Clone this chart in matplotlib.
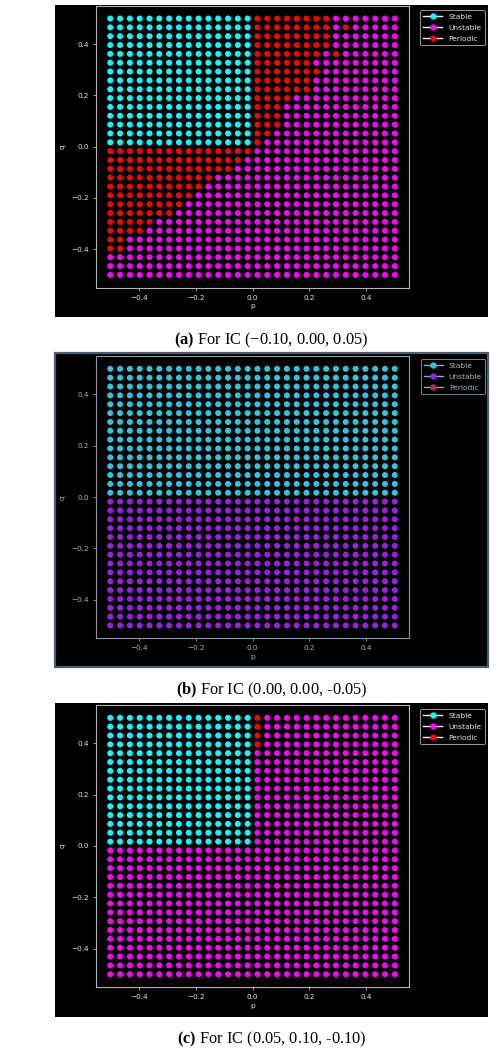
import matplotlib
matplotlib.use('Agg')
import numpy as np
import matplotlib.pyplot as plt
from matplotlib.patches import Rectangle
from matplotlib.lines import Line2D

### -------------------------------------------------------------------------------------------------------------------
### Data: 30 x 30 grid of (p, q), one string per row, top row (q = 0.5) first
### S = stable, U = unstable, P = periodic
### -------------------------------------------------------------------------------------------------------------------

pValues = np.linspace(-0.5, 0.5, 30)
qValues = np.linspace(-0.5, 0.5, 30)

gridA = [
    'SSSSSSSSSSSSSSSPPPPPPPPUUUUUUU',
    'SSSSSSSSSSSSSSSPPPPPPPPUPUUUUU',
    'SSSSSSSSSSSSSSSPPPPPPPPUUUUUUU',
    'SSSSSSSSSSSSSSSPPPPPPPPUUUUUUU',
    'SSSSSSSSSSSSSSSPPPPPPPUPUUUUUU',
    'SSSSSSSSSSSSSSSPPPPPPUUUUUUUUU',
    'SSSSSSSSSSSSSSSPPPPPPPUUUUUUUU',
    'SSSSSSSSSSSSSSSPPPPPPUUUUUUUUU',
    'SSSSSSSSSSSSSSSPPPPPPUUUUUUUUU',
    'SSSSSSSSSSSSSSSPPPPUUUUUUUUUUU',
    'SSSSSSSSSSSSSSSPPPUUUUUUUUUUUU',
    'SSSSSSSSSSSSSSSPPPUUUUUUUUUUUU',
    'SSSSSSSSSSSSSSSPPPUUUUUUUUUUUU',
    'SSSSSSSSSSSSSSSPPUUUUUUUUUUUUU',
    'SSSSSSSSSSSSSSSPUUUUUUUUUUUUUU',
    'PPPPPPPPPPPPPPPUUUUUUUUUUUUUUU',
    'PPPPPPPPPPPPPPUUUUUUUUUUUUUUUU',
    'PPPPPPPPPPPPPUUUUUUUUUUUUUUUUU',
    'PPPPPPPPPPPUUUUUUUUUUUUUUUUUUU',
    'PPPPPPPPPPUUUUUUUUUUUUUUUUUUUU',
    'PPPPPPPPPUUUUUUUUUUUUUUUUUUUUU',
    'PPPPPPPPUUUUUUUUUUUUUUUUUUUUUU',
    'PPPPPPPUUUUUUUUUUUUUUUUUUUUUUU',
    'PPPPPUUUUUUUUUUUUUUUUUUUUUUUUU',
    'PPPPUUUUUUUUUUUUUUUUUUUUUUUUUU',
    'PPUUUUUUUUUUUUUUUUUUUUUUUUUUUU',
    'PPUUUUUUUUUUUUUUUUUUUUUUUUUUUU',
    'UUUUUUUUUUUUUUUUUUUUUUUUUUUUUU',
    'UUUUUUUUUUUUUUUUUUUUUUUUUUUUUU',
    'UUUUUUUUUUUUUUUUUUUUUUUUUUUUUU',
]

gridB = ['SSSSSSSSSSSSSSSSSSSSSSSSSSSSSS'] * 15 + ['UUUUUUUUUUUUUUUUUUUUUUUUUUUUUU'] * 15

gridC = [
    'SSSSSSSSSSSSSSSPUUUUUUUUUUUUUU',
    'SSSSSSSSSSSSSSSPUUUUUUUUUUUUUU',
    'SSSSSSSSSSSSSSSPUUUUUUUUUUUUUU',
    'SSSSSSSSSSSSSSSPUUUUUUUUUUUUUU',
] + ['SSSSSSSSSSSSSSSUUUUUUUUUUUUUUU'] * 11 + ['UUUUUUUUUUUUUUUUUUUUUUUUUUUUUU'] * 15

captions = [r'$\mathbf{(a)}$ For IC (−0.10, 0.00, 0.05)',
            r'$\mathbf{(b)}$ For IC (0.00, 0.00, -0.05)',
            r'$\mathbf{(c)}$ For IC (0.05, 0.10, -0.10)']

legendLabels = ['Stable', 'Unstable', 'Periodic']
legendKeys = ['S', 'U', 'P']

### -------------------------------------------------------------------------------------------------------------------
### Setup
### -------------------------------------------------------------------------------------------------------------------

W, H = 500, 1057

plt.rcParams['mathtext.fontset'] = 'custom'
plt.rcParams['mathtext.rm'] = 'Liberation Serif'
plt.rcParams['mathtext.bf'] = 'Liberation Serif:bold'

brightStyle = {'colors': {'S': 'cyan', 'U': 'magenta', 'P': 'red'},
               'spine': '#b4b4b4', 'text': '#e6e6e6', 'legendLine': 'white', 'border': None}
dimStyle = {'colors': {'S': '#2cc6dc', 'U': '#9a1ee4', 'P': '#a8304c'},
            'spine': '#8c98a4', 'text': '#a9b3bd', 'legendLine': '#9aa6b2', 'border': '#4e5d6b'}

# pixel boxes: background (x0, y0, x1, y1), axes, legend anchor, caption y
panels = [
    {'grid': gridA, 'style': brightStyle, 'bg': (55, 5, 488, 317), 'ax': (96, 5.7, 409, 287.7),
     'leg': (420, 10), 'capY': 340},
    {'grid': gridB, 'style': dimStyle, 'bg': (55, 353, 488, 667), 'ax': (96, 356, 409, 638.3),
     'leg': (420.7, 359), 'capY': 690},
    {'grid': gridC, 'style': brightStyle, 'bg': (55, 703, 488, 1017), 'ax': (96, 705, 409, 987),
     'leg': (420, 709), 'capY': 1039.5},
]


def PixBox(x0, y0, x1, y1):
    return [x0 / W, 1 - y1 / H, (x1 - x0) / W, (y1 - y0) / H]


def DrawPanel(fig, panel, caption):
    style = panel['style']
    bx = PixBox(*panel['bg'])
    edge = style['border'] if style['border'] else 'none'
    fig.add_artist(Rectangle((bx[0], bx[1]), bx[2], bx[3], transform=fig.transFigure,
                             facecolor='black', edgecolor=edge, lw=1.6, zorder=-10))

    ax = fig.add_axes(PixBox(*panel['ax']))
    ax.set_facecolor('black')

    P, Q = np.meshgrid(pValues, qValues[::-1])
    labels = np.array([list(row) for row in panel['grid']])
    for key in legendKeys:
        mask = labels == key
        ax.scatter(P[mask], Q[mask], s=19, color=style['colors'][key], edgecolors='none')

    for spine in ax.spines.values():
        spine.set_color(style['spine'])
        spine.set_linewidth(0.8)
    ax.tick_params(colors=style['spine'], labelcolor=style['text'], labelsize=5.2, length=2.5, width=0.6, pad=2.5)
    ax.set_xticks([-0.4, -0.2, 0.0, 0.2, 0.4])
    ax.set_yticks([-0.4, -0.2, 0.0, 0.2, 0.4])
    ax.set_xlabel('p', color=style['text'], fontsize=5.4, labelpad=2)
    ax.set_ylabel('q', color=style['text'], fontsize=5.4, labelpad=4)

    handles = [Line2D([], [], color=style['legendLine'], lw=1.0, marker='o', markersize=3.6,
                      markerfacecolor=style['colors'][k], markeredgecolor=style['colors'][k]) for k in legendKeys]
    lx, ly = panel['leg']
    leg = fig.legend(handles, legendLabels, loc='upper left', bbox_to_anchor=(lx / W, 1 - ly / H),
                     borderaxespad=0, fontsize=5.4, handlelength=2.5, handletextpad=0.8,
                     labelspacing=0.65, borderpad=0.45, fancybox=True, framealpha=1)
    leg.get_frame().set_facecolor('black')
    leg.get_frame().set_edgecolor(style['spine'])
    leg.get_frame().set_linewidth(0.6)
    for text in leg.get_texts():
        text.set_color(style['text'])

    cx = (panel['bg'][0] + panel['bg'][2]) / 2
    fig.text(cx / W, 1 - panel['capY'] / H, caption, ha='center', va='center',
             fontsize=11.8, family=['Liberation Serif', 'DejaVu Serif'], color='black')


### -------------------------------------------------------------------------------------------------------------------
### Main
### -------------------------------------------------------------------------------------------------------------------

fig = plt.figure(figsize=(W / 100, H / 100), dpi=100)
fig.patch.set_facecolor('white')

for panel, caption in zip(panels, captions):
    DrawPanel(fig, panel, caption)

fig.savefig('out.png', dpi=100, facecolor='white')
